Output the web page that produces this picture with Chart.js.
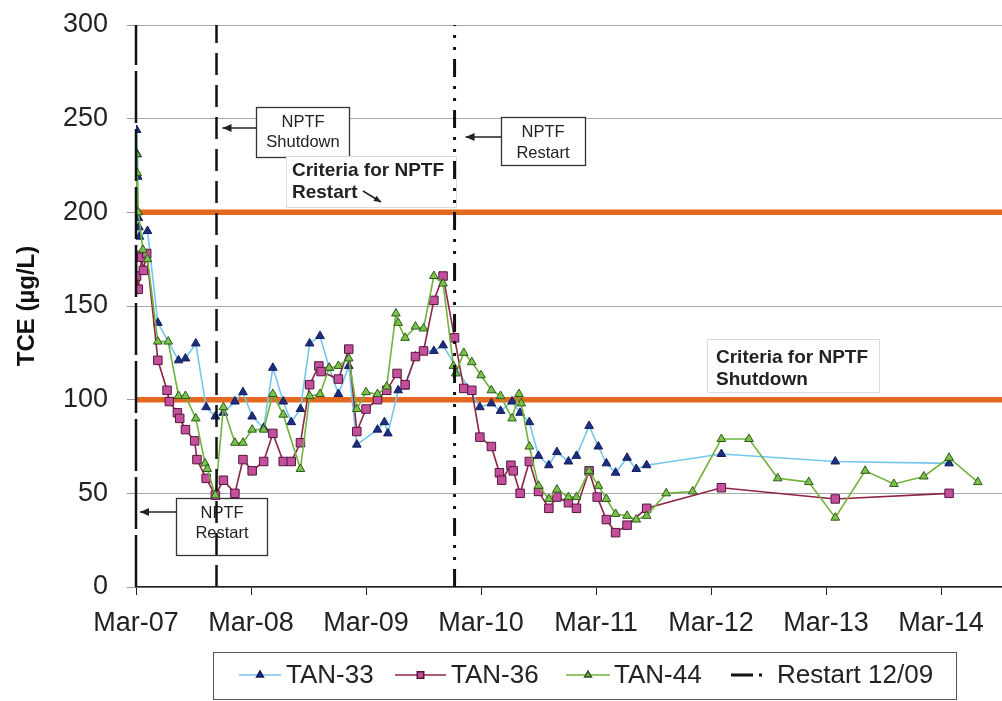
<!DOCTYPE html>
<html><head><meta charset="utf-8">
<script src="https://cdn.jsdelivr.net/npm/chart.js@4.4.1/dist/chart.umd.min.js"></script>
<style>html,body{margin:0;padding:0;background:#fff}#wrap{width:1002px;height:701px}</style>
</head><body><div id="wrap"><canvas id="c" width="1002" height="701"></canvas></div>
<script>
// x values: years after March 2007
const xTickLabels = ['Mar-07','Mar-08','Mar-09','Mar-10','Mar-11','Mar-12','Mar-13','Mar-14'];
const xMax = 7.53;
const yTicks = [0, 50, 100, 150, 200, 250, 300];

const tan33T = [0,0.005,0.01,0.015,0.02,0.025,0.03,0.1,0.19,0.37,0.43,0.52,0.61,0.69,0.76,0.86,0.93,1.01,1.11,1.19,1.28,1.35,1.43,1.51,1.6,1.68,1.76,1.85,1.92,2.1,2.16,2.19,2.28,2.34,2.43,2.5,2.59,2.67,2.99,3.09,3.17,3.27,3.34,3.42,3.5,3.59,3.66,3.76,3.83,3.94,4.02,4.09,4.17,4.27,4.35,4.44,5.09,6.08,7.07];
const tan33 = [200,244,231,219,197,192,187,190,141,121,122,130,96,91,93,99,104,91,85,117,99,88,95,130,134,117,103,118,76,84,88,82,105,107,123,126,126,129,96,98,94,99,93,88,70,65,72,67,70,86,75,66,61,69,63,65,71,67,66];

const tan36T = [0,0.005,0.02,0.05,0.064,0.093,0.19,0.27,0.29,0.36,0.38,0.43,0.51,0.53,0.61,0.69,0.76,0.86,0.93,1.01,1.11,1.19,1.28,1.35,1.43,1.51,1.59,1.61,1.76,1.85,1.92,2.0,2.1,2.18,2.27,2.34,2.43,2.5,2.59,2.67,2.77,2.85,2.92,2.99,3.09,3.16,3.18,3.26,3.28,3.34,3.42,3.5,3.59,3.66,3.76,3.83,3.94,4.01,4.09,4.17,4.27,4.44,5.09,6.08,7.07];
const tan36 = [177,166,159,176,169,178,121,105,99,93,90,84,78,68,58,49,57,50,68,62,67,82,67,67,77,108,118,115,111,127,83,95,100,105,114,108,123,126,153,166,133,106,105,80,75,61,57,65,62,50,67,51,42,48,45,42,62,48,36,29,33,42,53,47,50];

const tan44T = [0,0.005,0.01,0.02,0.06,0.1,0.19,0.28,0.37,0.43,0.52,0.6,0.62,0.69,0.76,0.86,0.93,1.01,1.11,1.19,1.28,1.43,1.51,1.6,1.68,1.76,1.85,1.92,2.0,2.1,2.18,2.26,2.28,2.34,2.43,2.5,2.59,2.67,2.76,2.78,2.85,2.92,3.0,3.09,3.17,3.27,3.33,3.35,3.42,3.5,3.59,3.66,3.76,3.83,3.94,4.02,4.09,4.17,4.27,4.35,4.44,4.61,4.84,5.09,5.33,5.58,5.85,6.08,6.34,6.59,6.85,7.07,7.32];
const tan44 = [200,231,221,200,180,175,131,131,102,102,90,66,63,49,96,77,77,84,84,103,92,63,102,103,117,118,122,95,104,103,107,146,141,133,139,138,166,162,118,114,125,120,113,105,102,90,103,98,75,54,47,52,48,48,62,54,47,39,38,36,38,50,51,79,79,58,56,37,62,55,59,69,56];

const criteriaLevels = [100, 200];     // shutdown / restart criteria (µg/L)
const restartT = 0;                    // NPTF restart, Mar-07
const shutdownT = 0.70;                // NPTF shutdown
const restart1209T = 2.77;             // Restart 12/09

const FONT = '"Liberation Sans", Arial, sans-serif';
const C33 = {line:'#74C6EC', fill:'#1D2E82', edge:'#141E5A'};
const C36 = {line:'#8E2443', fill:'#C4509C', edge:'#55163F'};
const C44 = {line:'#70B23C', fill:'#7CC24A', edge:'#2B5A1C'};
const ORANGE = '#E2691F';

const pts = (T, V) => T.map((t, i) => ({x: t, y: V[i]}));
const vline = t => [{x: t, y: 0}, {x: t, y: 300}];
const hline = v => [{x: 0, y: v}, {x: xMax, y: v}];

function arrow(ctx, x1, y1, x2, y2, head) {
  ctx.beginPath(); ctx.moveTo(x1, y1); ctx.lineTo(x2, y2); ctx.stroke();
  const a = Math.atan2(y2 - y1, x2 - x1);
  ctx.beginPath();
  ctx.moveTo(x2, y2);
  ctx.lineTo(x2 - head * Math.cos(a) + head * 0.45 * Math.sin(a), y2 - head * Math.sin(a) - head * 0.45 * Math.cos(a));
  ctx.lineTo(x2 - head * Math.cos(a) - head * 0.45 * Math.sin(a), y2 - head * Math.sin(a) + head * 0.45 * Math.cos(a));
  ctx.closePath(); ctx.fill();
}

// stretch the plot area to the right edge of the canvas, as in the original
const fullWidthPlugin = {
  id: 'fullWidth',
  afterLayout(chart) {
    const a = chart.chartArea, xs = chart.scales.x;
    a.right = chart.width; a.width = a.right - a.left;
    xs.right = chart.width; xs.width = xs.right - xs.left;
    xs.configure();
  }
};

const annotationPlugin = {
  id: 'notes',
  beforeDatasetsDraw(chart) {
    const ctx = chart.ctx, xs = chart.scales.x;
    const xShut = xs.getPixelForValue(shutdownT);
    const xRes = xs.getPixelForValue(restartT);
    const xRes09 = xs.getPixelForValue(restart1209T);
    ctx.save();
    const box = (x, y, w, h, stroke, lw) => {
      ctx.fillStyle = '#fff'; ctx.fillRect(x, y, w, h);
      ctx.strokeStyle = stroke; ctx.lineWidth = lw; ctx.strokeRect(x, y, w, h);
    };
    box(256.5, 107.5, 93, 50, '#333', 1.3);
    box(501.5, 117.5, 84, 48, '#333', 1.3);
    box(286.5, 156.5, 170, 51, '#DCDCDC', 1);
    box(707.5, 339.5, 172, 53, '#DCDCDC', 1);
    box(176.5, 498.5, 91, 57, '#333', 1.3);

    ctx.fillStyle = '#222';
    ctx.textBaseline = 'middle';
    ctx.textAlign = 'center';
    ctx.font = '16.5px ' + FONT;
    ctx.fillText('NPTF', 303, 122); ctx.fillText('Shutdown', 303, 142);
    ctx.fillText('NPTF', 543, 132); ctx.fillText('Restart', 543, 153);
    ctx.fillText('NPTF', 222, 513); ctx.fillText('Restart', 222, 533);
    ctx.textAlign = 'left';
    ctx.font = 'bold 19px ' + FONT;
    ctx.fillText('Criteria for NPTF', 292, 171); ctx.fillText('Restart', 292, 193);
    ctx.fillText('Criteria for NPTF', 716, 358); ctx.fillText('Shutdown', 716, 380);

    ctx.strokeStyle = '#222'; ctx.fillStyle = '#222'; ctx.lineWidth = 1.5;
    arrow(ctx, 256, 128, xShut + 6, 128, 9);
    arrow(ctx, 501, 137, xRes09 + 11, 137, 9);
    arrow(ctx, 176, 512, xRes + 4, 512, 9);
    arrow(ctx, 363, 191, 381, 202, 7);
    ctx.restore();
  },
  afterDraw(chart) {
    const ctx = chart.ctx;
    ctx.save();
    ctx.strokeStyle = '#555'; ctx.lineWidth = 1;
    ctx.strokeRect(213.5, 652.5, 743, 47);
    const cy = 675;
    const items = [
      {x0: 239, x1: 281, tx: 286, text: 'TAN-33', c: C33, style: 'triangle'},
      {x0: 395, x1: 446, tx: 451, text: 'TAN-36', c: C36, style: 'rect'},
      {x0: 566, x1: 610, tx: 614, text: 'TAN-44', c: C44, style: 'triangle'}
    ];
    ctx.font = '26px ' + FONT;
    ctx.textBaseline = 'middle'; ctx.textAlign = 'left';
    items.forEach(it => {
      ctx.strokeStyle = it.c.line; ctx.lineWidth = 1.6;
      ctx.beginPath(); ctx.moveTo(it.x0, cy); ctx.lineTo(it.x1, cy); ctx.stroke();
      ctx.fillStyle = it.c.fill; ctx.strokeStyle = it.c.edge;
      Chart.helpers.drawPoint(ctx, {pointStyle: it.style, radius: it.style === 'rect' ? 4.5 : 3.8, rotation: 0, borderWidth: 1}, (it.x0 + it.x1) / 2, cy);
      ctx.fillStyle = '#222';
      ctx.fillText(it.text, it.tx, cy + 1);
    });
    ctx.strokeStyle = '#111'; ctx.lineWidth = 3;
    ctx.beginPath(); ctx.moveTo(731, cy); ctx.lineTo(753, cy); ctx.stroke();
    ctx.beginPath(); ctx.moveTo(759, cy); ctx.lineTo(762, cy); ctx.stroke();
    ctx.fillStyle = '#222';
    ctx.fillText('Restart 12/09', 777, cy + 1);
    ctx.restore();
  }
};

const seriesDs = (label, T, V, c, style, r, order) => ({
  label, data: pts(T, V), borderColor: c.line, borderWidth: 1.6, tension: 0,
  pointStyle: style, pointRadius: r, pointBackgroundColor: c.fill,
  pointBorderColor: c.edge, pointBorderWidth: 1, order
});
const lineDs = (label, data, color, width, dash, order) => ({
  label, data, borderColor: color, borderWidth: width, borderDash: dash,
  pointRadius: 0, tension: 0, clip: false, order, borderCapStyle: 'butt'
});

new Chart(document.getElementById('c'), {
  type: 'line',
  data: {
    datasets: [
      lineDs('Restart 12/09', vline(restart1209T), '#111', 3, [18, 9, 3, 9, 3, 9], 0),
      lineDs('Restart', vline(restartT), '#111', 2.5, [52, 6], 0),
      lineDs('Shutdown', vline(shutdownT), '#111', 2.5, [22, 10], 0),
      seriesDs('TAN-44', tan44T, tan44, C44, 'triangle', 5, 1),
      seriesDs('TAN-36', tan36T, tan36, C36, 'rect', 6, 2),
      seriesDs('TAN-33', tan33T, tan33, C33, 'triangle', 5, 3),
      lineDs('Shutdown criteria', hline(criteriaLevels[0]), ORANGE, 5.5, [], 10),
      lineDs('Restart criteria', hline(criteriaLevels[1]), ORANGE, 5.5, [], 10)
    ]
  },
  options: {
    responsive: false, animation: false, devicePixelRatio: 1,
    layout: {padding: {left: 0, right: 0, top: 25, bottom: 56}},
    plugins: {legend: {display: false}, tooltip: {enabled: false}},
    scales: {
      x: {
        type: 'linear', min: 0, max: xMax,
        afterBuildTicks: s => { s.ticks = xTickLabels.map((_, i) => ({value: i})); },
        afterFit: s => { s.height = 58; s.paddingLeft = 0; s.paddingRight = 0; },
        ticks: {callback: v => xTickLabels[v], font: {size: 27, family: FONT}, color: '#222', padding: 12, maxRotation: 0, autoSkip: false},
        grid: {display: true, drawOnChartArea: false, drawTicks: true, tickLength: 8, color: '#222', lineWidth: 1},
        border: {display: true, color: '#222', width: 1.5}
      },
      y: {
        min: 0, max: 300,
        afterBuildTicks: s => { s.ticks = yTicks.map(v => ({value: v})); },
        afterFit: s => { s.width = 136; s.paddingTop = 0; s.paddingBottom = 0; },
        ticks: {font: {size: 27, family: FONT}, color: '#222', padding: 19},
        grid: {color: '#A8A8A8', lineWidth: 1, tickLength: 9, tickColor: '#999'},
        border: {display: false},
        title: {display: true, text: 'TCE (µg/L)', font: {size: 24, weight: 'bold', family: FONT}, color: '#111', padding: {top: 13, bottom: 0}}
      }
    }
  },
  plugins: [fullWidthPlugin, annotationPlugin]
});
</script>
</body></html>
